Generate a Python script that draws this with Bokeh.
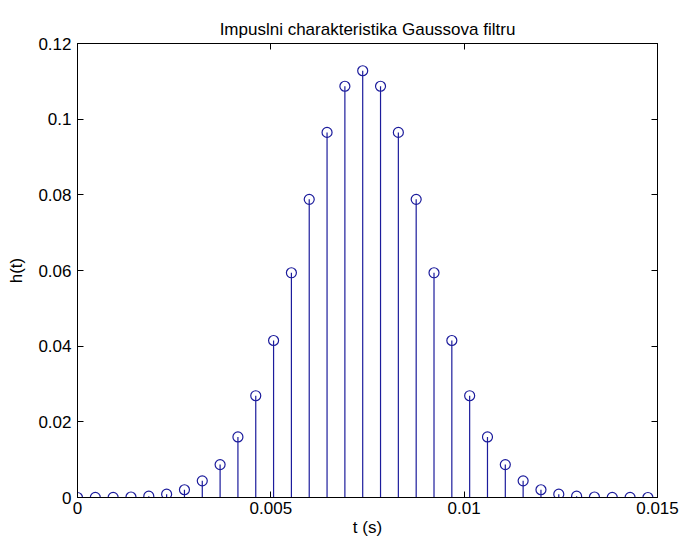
from bokeh.plotting import figure
from bokeh.models import Range1d, FixedTicker, LinearAxis, ColumnDataSource
from bokeh.embed import file_html
from bokeh.resources import INLINE

# ---- data ----
t = [0.0, 0.000461, 0.000922, 0.001383, 0.001844, 0.002305, 0.002766, 0.003227,
     0.003688, 0.004149, 0.004610, 0.005071, 0.005532, 0.005993, 0.006454, 0.006915,
     0.007376, 0.007837, 0.008298, 0.008759, 0.009220, 0.009681, 0.010142, 0.010603,
     0.011064, 0.011525, 0.011986, 0.012447, 0.012908, 0.013369, 0.013830, 0.014291,
     0.014752]
h = [0.00000, 0.00001, 0.00004, 0.00013, 0.00036, 0.00089, 0.00205, 0.0044,
     0.0087, 0.0160, 0.0269, 0.0415, 0.0594, 0.0788, 0.0965, 0.1087,
     0.1128,
     0.1087, 0.0965, 0.0788, 0.0594, 0.0415, 0.0269, 0.0160, 0.0087,
     0.0044, 0.00205, 0.00089, 0.00036, 0.00013, 0.00004, 0.00001, 0.00000]
base = [0.0] * len(t)

x_ticks = [0, 0.005, 0.01, 0.015]
x_tick_labels = ["0", "0.005", "0.01", "0.015"]
y_ticks = [0, 0.02, 0.04, 0.06, 0.08, 0.1, 0.12]
y_tick_labels = ["0", "0.02", "0.04", "0.06", "0.08", "0.1", "0.12"]

title_text = "Impuslni charakteristika Gaussova filtru"
x_label = "t (s)"
y_label = "h(t)"

FONT = "Liberation Sans"
STEM = "#1c1c9c"

src = ColumnDataSource(dict(t=t, h=h, base=base))

p = figure(width=679, height=543, output_backend="svg", toolbar_location=None,
           x_range=Range1d(0, 0.015), y_range=Range1d(0, 0.12),
           min_border_left=77, min_border_right=22, min_border_top=43,
           min_border_bottom=46, title=title_text)

p.background_fill_color = "white"
p.border_fill_color = "white"
p.outline_line_color = "black"
p.outline_line_width = 1
p.xgrid.visible = False
p.ygrid.visible = False

p.title.align = "center"
p.title.text_font = FONT
p.title.text_font_size = "17px"
p.title.text_font_style = "normal"
p.title.text_color = "black"
p.title.standoff = 10

xt = dict(zip(x_ticks, x_tick_labels))
yt = dict(zip(y_ticks, y_tick_labels))

for ax in p.xaxis:
    ax.ticker = FixedTicker(ticks=x_ticks)
    ax.major_label_overrides = xt
for ax in p.yaxis:
    ax.ticker = FixedTicker(ticks=y_ticks)
    ax.major_label_overrides = yt

for ax in list(p.xaxis) + list(p.yaxis):
    ax.major_tick_in = 6
    ax.major_tick_out = 0
    ax.minor_tick_line_color = None
    ax.axis_line_color = "black"
    ax.major_tick_line_color = "black"
    ax.major_label_text_font = FONT
    ax.major_label_text_font_size = "17px"
    ax.major_label_text_color = "black"
    ax.axis_label_text_font = FONT
    ax.axis_label_text_font_size = "17px"
    ax.axis_label_text_font_style = "normal"
    ax.axis_label_text_color = "black"

p.xaxis.axis_label = x_label
p.yaxis.axis_label = y_label
p.xaxis.major_label_standoff = 4
p.xaxis.axis_label_standoff = 1
p.yaxis.major_label_standoff = 6
p.yaxis.axis_label_standoff = 9

# mirrored ticks on top and right (MATLAB box style)
top = LinearAxis(ticker=FixedTicker(ticks=x_ticks), major_label_text_color=None,
                 major_tick_in=6, major_tick_out=0, minor_tick_line_color=None,
                 major_label_standoff=0, axis_line_color="black")
right = LinearAxis(ticker=FixedTicker(ticks=y_ticks), major_label_text_color=None,
                   major_tick_in=6, major_tick_out=0, minor_tick_line_color=None,
                   major_label_standoff=0, axis_line_color="black")
p.add_layout(top, "above")
p.add_layout(right, "right")

# stems
p.segment(x0="t", y0="base", x1="t", y1="h", source=src, line_color=STEM, line_width=1.2)
p.scatter(x="t", y="h", source=src, marker="circle", size=10, fill_alpha=0,
          line_color=STEM, line_width=1.2)

open("out.html", "w").write(file_html(p, INLINE))
